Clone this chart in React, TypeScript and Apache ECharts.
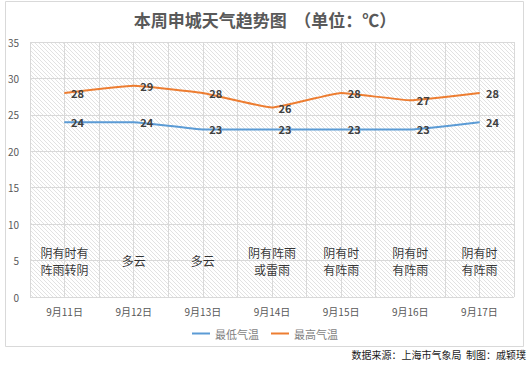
import React, { useEffect, useRef } from "react";
import * as echarts from "echarts";

const categories = ["9月11日", "9月12日", "9月13日", "9月14日", "9月15日", "9月16日", "9月17日"];
const lowTemps = [24, 24, 23, 23, 23, 23, 24];
const highTemps = [28, 29, 28, 26, 28, 27, 28];
const weather = [
  "阴有时有\n阵雨转阴",
  "多云",
  "多云",
  "阴有阵雨\n或雷雨",
  "阴有时\n有阵雨",
  "阴有时\n有阵雨",
  "阴有时\n有阵雨",
];
const weatherY = [5, 5, 5, 5, 5, 5, 5];
const yTicks = { min: 0, max: 35, interval: 5 };
const titleText = "本周申城天气趋势图  （单位：℃）";
const sourceText = "数据来源：上海市气象局  制图：戚颖璞";

const FONT = "'Noto Sans CJK SC', 'Noto Sans', sans-serif";

function makeHatch(): string {
  const c = document.createElement("canvas");
  c.width = 4;
  c.height = 4;
  const ctx = c.getContext("2d")!;
  ctx.fillStyle = "#ffffff";
  ctx.fillRect(0, 0, 4, 4);
  ctx.strokeStyle = "#e2e2e2";
  ctx.lineWidth = 1;
  ctx.beginPath();
  ctx.moveTo(-1, -1);
  ctx.lineTo(5, 5);
  ctx.moveTo(-1, 3);
  ctx.lineTo(1, 5);
  ctx.moveTo(3, -1);
  ctx.lineTo(5, 1);
  ctx.stroke();
  return c.toDataURL();
}

const lineLabel = {
  show: true,
  position: "right",
  distance: 6,
  fontSize: 11,
  fontWeight: "bold",
  color: "#404040",
  fontFamily: FONT,
};

export default function App() {
  const ref = useRef<HTMLDivElement>(null);
  useEffect(() => {
    document.body.style.margin = "0";
    const chart = echarts.init(ref.current!, null, { renderer: "svg" });
    const hatch = makeHatch();
    chart.setOption({
      animation: false,
      backgroundColor: "#ffffff",
      textStyle: { fontFamily: FONT },
      title: {
        text: titleText,
        left: "center",
        top: 6,
        textStyle: { fontSize: 17, fontWeight: "bold", color: "#595959", fontFamily: FONT },
      },
      graphic: [
        {
          type: "rect",
          z: -10,
          silent: true,
          shape: { x: 5.5, y: 1.5, width: 518, height: 345 },
          style: { fill: "none", stroke: "#d9d9d9", lineWidth: 1 },
        },
        {
          type: "text",
          right: 4,
          top: 349,
          style: { text: sourceText, fontSize: 10, fill: "#1a1a1a", fontFamily: FONT },
        },
      ],
      legend: {
        data: ["最低气温", "最高气温"],
        left: "center",
        top: 323,
        icon: "rect",
        itemWidth: 18,
        itemHeight: 2,
        itemGap: 12,
        textStyle: { fontSize: 11, color: "#7f7f7f", fontFamily: FONT },
      },
      grid: {
        left: 30,
        right: 16,
        top: 42,
        bottom: 69,
        show: true,
        borderWidth: 0,
        backgroundColor: {
          image: hatch,
          repeat: "repeat",
          imageWidth: 4,
          imageHeight: 4,
        } as any,
      },
      xAxis: [
        {
          type: "category",
          data: categories,
          boundaryGap: true,
          axisLine: { show: false },
          axisTick: { show: false },
          splitLine: { show: false },
          axisLabel: { fontSize: 10, color: "#595959", margin: 9, fontFamily: FONT },
        },
        {
          type: "value",
          min: 0,
          max: categories.length * 2,
          interval: 1,
          position: "top",
          axisLine: { show: false },
          axisTick: { show: false },
          axisLabel: { show: false },
          splitLine: { show: true, lineStyle: { color: "#d9d9d9", width: 1 } },
        },
      ],
      yAxis: {
        type: "value",
        min: yTicks.min,
        max: yTicks.max,
        interval: yTicks.interval,
        axisLine: { show: false },
        axisTick: { show: false },
        axisLabel: { fontSize: 10, color: "#595959", margin: 11, fontFamily: FONT },
        splitLine: { show: true, lineStyle: { color: "#d9d9d9", width: 1 } },
      },
      series: [
        {
          name: "最低气温",
          type: "line",
          data: lowTemps,
          smooth: 0.1,
          symbol: "circle",
          symbolSize: 1,
          showSymbol: true,
          lineStyle: { color: "#5b9bd5", width: 2 },
          itemStyle: { color: "#5b9bd5" },
          label: lineLabel,
        },
        {
          name: "最高气温",
          type: "line",
          data: highTemps,
          smooth: 0.1,
          symbol: "circle",
          symbolSize: 1,
          showSymbol: true,
          lineStyle: { color: "#ed7d31", width: 2 },
          itemStyle: { color: "#ed7d31" },
          label: lineLabel,
        },
        {
          name: "天气",
          type: "scatter",
          data: weatherY,
          symbolSize: 0,
          silent: true,
          label: {
            show: true,
            position: "inside",
            formatter: (p: any) => weather[p.dataIndex],
            fontSize: 12,
            lineHeight: 17,
            color: "#000000",
            fontFamily: FONT,
          },
        },
      ],
    });
    return () => chart.dispose();
  }, []);
  return <div ref={ref} style={{ width: 530, height: 366 }} />;
}
